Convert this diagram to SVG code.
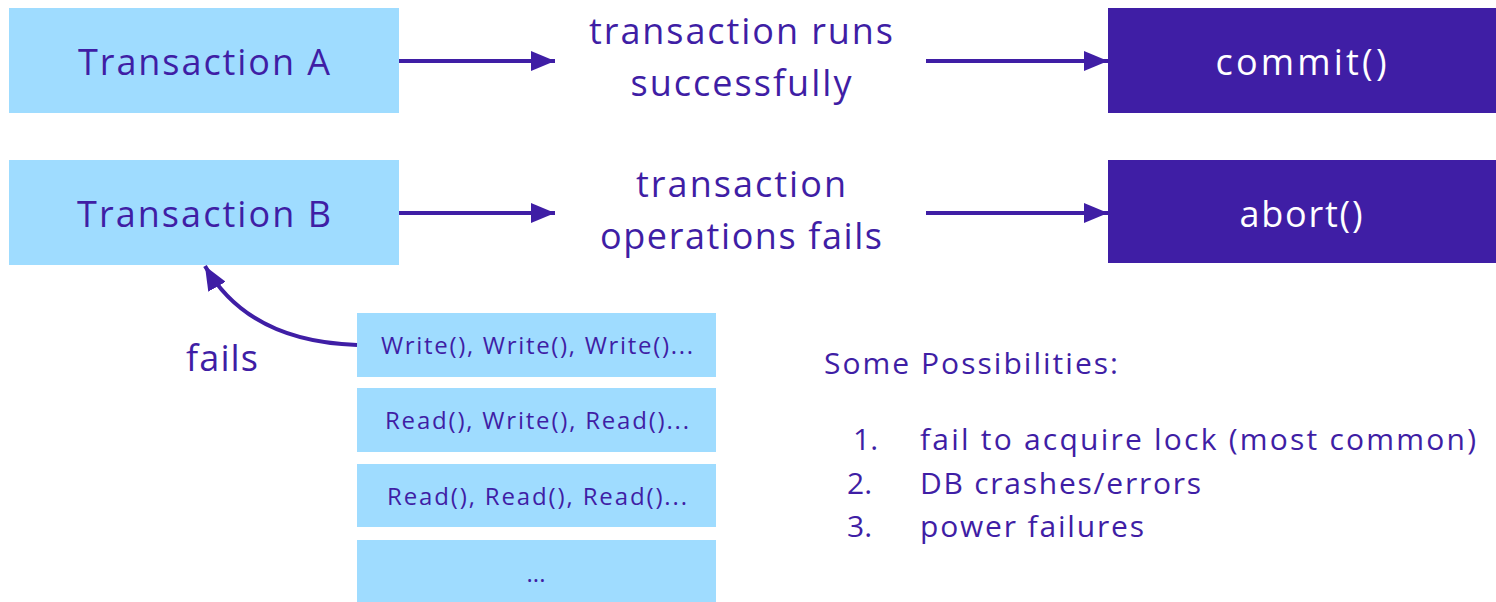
<svg xmlns="http://www.w3.org/2000/svg" width="1496" height="602" viewBox="0 0 1496 602">
  <defs>
    <style>
      .light { fill: #9fdcff; }
      .dark { fill: #3f1ea5; }
      .txt { font-family: "Open Sans", "Noto Sans", sans-serif; fill: #3f1ea5; text-anchor: middle; }
      .big { font-size: 36px; }
      .small { font-size: 24px; }
      .list { font-family: "Open Sans", "Noto Sans", sans-serif; fill: #3f1ea5; font-size: 30px; }
      .white { fill: #ffffff; }
      .edge { stroke: #3f1ea5; stroke-width: 4; fill: none; }
    </style>
    <marker id="arrow" viewBox="0 0 24 20" refX="24" refY="10" markerWidth="24" markerHeight="20" markerUnits="userSpaceOnUse" orient="auto">
      <path d="M0,0 L24,10 L0,20 Z" fill="#3f1ea5"/>
    </marker>
  </defs>

  <g id="transaction-a">
    <rect class="light" x="9" y="8" width="390" height="105"/>
    <text class="txt big" x="204" y="75" textLength="252">Transaction A</text>
  </g>
  <g id="transaction-b">
    <rect class="light" x="9" y="160" width="390" height="105"/>
    <text class="txt big" x="204" y="227" textLength="254">Transaction B</text>
  </g>
  <g id="runs-label">
    <text class="txt big" x="741" y="44" textLength="304">transaction runs</text>
    <text class="txt big" x="741" y="96" textLength="221">successfully</text>
  </g>
  <g id="fails-label">
    <text class="txt big" x="741" y="197" textLength="210">transaction</text>
    <text class="txt big" x="741" y="249" textLength="282">operations fails</text>
  </g>
  <g id="commit">
    <rect class="dark" x="1108" y="8" width="388" height="105"/>
    <text class="txt big white" x="1301" y="75" textLength="171">commit()</text>
  </g>
  <g id="abort">
    <rect class="dark" x="1108" y="160" width="388" height="103"/>
    <text class="txt big white" x="1301" y="227" textLength="123">abort()</text>
  </g>
  <g id="ops-1">
    <rect class="light" x="357" y="313" width="359" height="64"/>
    <text class="txt small" x="537" y="354" textLength="312">Write(), Write(), Write()...</text>
  </g>
  <g id="ops-2">
    <rect class="light" x="357" y="388" width="359" height="64"/>
    <text class="txt small" x="537" y="429" textLength="304">Read(), Write(), Read()...</text>
  </g>
  <g id="ops-3">
    <rect class="light" x="357" y="464" width="359" height="63"/>
    <text class="txt small" x="537" y="505" textLength="300">Read(), Read(), Read()...</text>
  </g>
  <g id="ops-4">
    <rect class="light" x="357" y="540" width="359" height="62"/>
    <text class="txt small" x="536" y="582">...</text>
  </g>
  <g id="fails-text">
    <text class="txt big" x="222" y="371" textLength="72">fails</text>
  </g>
  <g id="possibilities">
    <text class="list" x="824" y="374" textLength="294">Some Possibilities:</text>
    <text class="list" x="853" y="450">1.</text>
    <text class="list" x="920" y="450" textLength="556">fail to acquire lock (most common)</text>
    <text class="list" x="847" y="494">2.</text>
    <text class="list" x="920" y="494" textLength="281">DB crashes/errors</text>
    <text class="list" x="847" y="537">3.</text>
    <text class="list" x="920" y="537" textLength="224">power failures</text>
  </g>

  <g id="connectors">
    <line class="edge" x1="399" y1="61" x2="555" y2="61" marker-end="url(#arrow)"/>
    <line class="edge" x1="926" y1="61" x2="1108" y2="61" marker-end="url(#arrow)"/>
    <line class="edge" x1="399" y1="213" x2="555" y2="213" marker-end="url(#arrow)"/>
    <line class="edge" x1="926" y1="213" x2="1108" y2="213" marker-end="url(#arrow)"/>
    <path class="edge" d="M357,345 C290,343 236,320 205,266" marker-end="url(#arrow)"/>
  </g>
</svg>
